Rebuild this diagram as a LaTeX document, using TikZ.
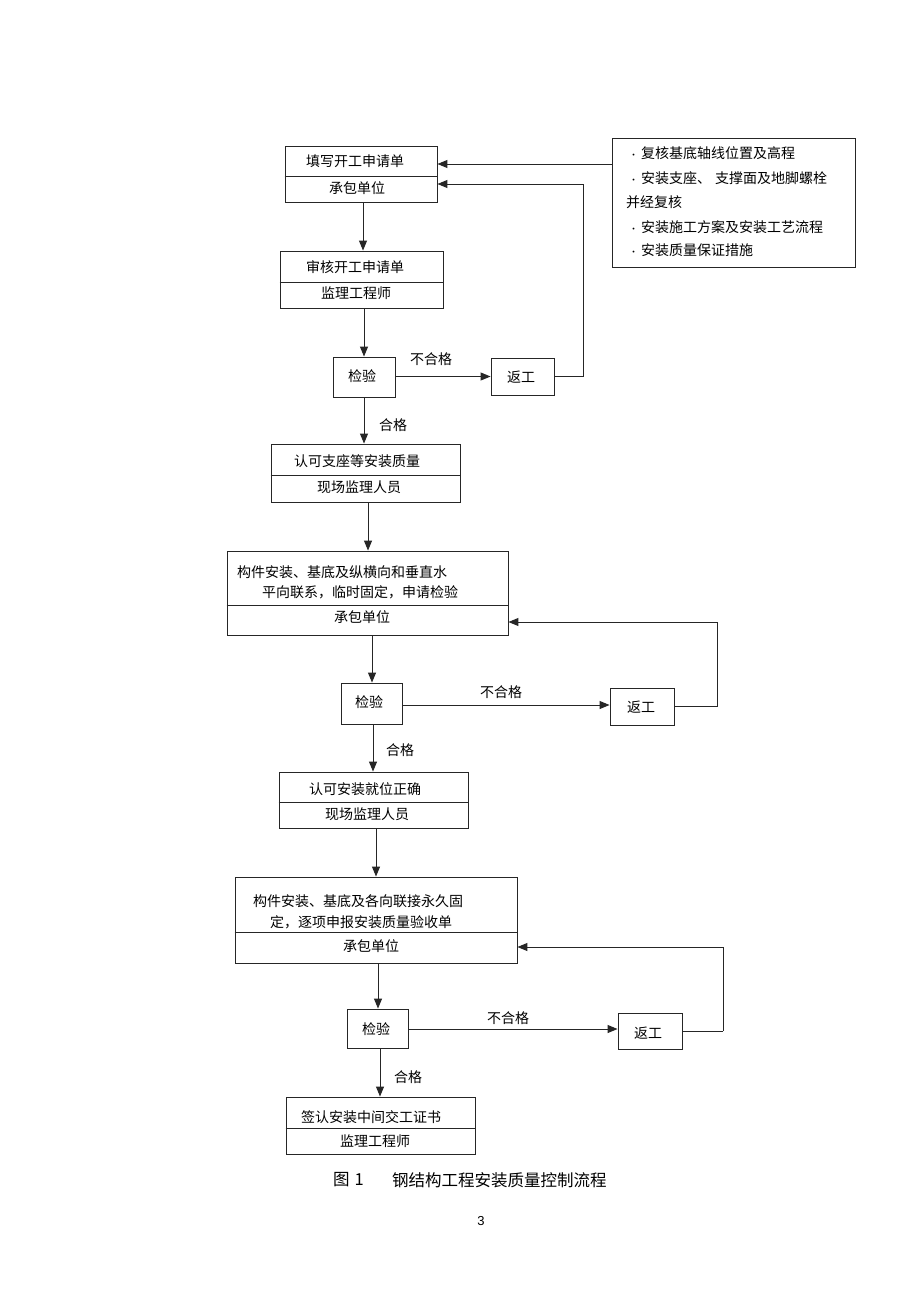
\documentclass[tikz,border=0pt]{standalone}
\usepackage{fontspec}
\setmainfont{Liberation Sans}
\newfontfamily\cjk{Noto Sans CJK SC}
\usetikzlibrary{arrows.meta}
\begin{document}
\begin{tikzpicture}[x=1pt,y=-1pt,
  box/.style={draw=black!85, line width=0.9pt, inner sep=0, fill=none},
  lnk/.style={draw=black!85, line width=1pt},
  arr/.style={lnk, -{Triangle[length=10pt,width=8pt]}},
  txt/.style={inner sep=0, font=\cjk\fontsize{14}{16}\selectfont},
  captxt/.style={inner sep=0, font=\cjk\fontsize{16.5}{18}\selectfont}]
\fill[white] (0,0) rectangle (920,1303);
\useasboundingbox (0,0) rectangle (920,1303);

% ---- boxes ----
\node[box, minimum width=152pt, minimum height=56pt] (b1) at (361,174) {};
\node[box, minimum width=163pt, minimum height=57pt] (b2) at (361.5,279.5) {};
\node[box, minimum width=62pt, minimum height=40pt] (k1) at (364,377) {};
\node[box, minimum width=63pt, minimum height=37pt] (r1) at (522.5,376.5) {};
\node[box, minimum width=243pt, minimum height=129pt] (info) at (733.5,202.5) {};
\node[box, minimum width=189pt, minimum height=58pt] (b3) at (365.5,473) {};
\node[box, minimum width=281pt, minimum height=84pt] (b4) at (367.5,593) {};
\node[box, minimum width=61pt, minimum height=41pt] (k2) at (371.5,703.5) {};
\node[box, minimum width=64pt, minimum height=37pt] (r2) at (642,706.5) {};
\node[box, minimum width=189pt, minimum height=56pt] (b5) at (373.5,800) {};
\node[box, minimum width=282pt, minimum height=86pt] (b6) at (376,920) {};
\node[box, minimum width=61pt, minimum height=39pt] (k3) at (377.5,1028.5) {};
\node[box, minimum width=64pt, minimum height=36pt] (r3) at (650,1031) {};
\node[box, minimum width=189pt, minimum height=57pt] (b7) at (380.5,1125.5) {};

% ---- dividers ----
\draw[lnk] (b1.west |- 0,176) -- (b1.east |- 0,176);
\draw[lnk] (b2.west |- 0,282) -- (b2.east |- 0,282);
\draw[lnk] (b3.west |- 0,475) -- (b3.east |- 0,475);
\draw[lnk] (b4.west |- 0,605) -- (b4.east |- 0,605);
\draw[lnk] (b5.west |- 0,802) -- (b5.east |- 0,802);
\draw[lnk] (b6.west |- 0,932) -- (b6.east |- 0,932);
\draw[lnk] (b7.west |- 0,1128) -- (b7.east |- 0,1128);

% ---- texts ----
\node[txt] (t1a) at (355,161) {填写开工申请单};
\node[txt] (t1b) at (357,188) {承包单位};
\node[txt] (t2a) at (355,267) {审核开工申请单};
\node[txt] (t2b) at (356,293) {监理工程师};
\node[txt] (tk1) at (362,376) {检验};
\node[txt] (tr1) at (521,377) {返工};
\node[txt] (tn1) at (431,359) {不合格};
\node[txt] (tp1) at (393,425) {合格};
\node[txt] (t3a) at (357,461) {认可支座等安装质量};
\node[txt] (t3b) at (359,487) {现场监理人员};
\node[txt, anchor=west] (t4a) at (237,572) {构件安装、基底及纵横向和垂直水};
\node[txt, anchor=west] (t4b) at (262,592) {平向联系，临时固定，申请检验};
\node[txt] (t4c) at (362,617) {承包单位};
\node[txt] (tk2) at (369,702) {检验};
\node[txt] (tr2) at (641,707) {返工};
\node[txt] (tn2) at (501,692) {不合格};
\node[txt] (tp2) at (400,750) {合格};
\node[txt] (t5a) at (365,789) {认可安装就位正确};
\node[txt] (t5b) at (367,814) {现场监理人员};
\node[txt, anchor=west] (t6a) at (253,901) {构件安装、基底及各向联接永久固};
\node[txt, anchor=west] (t6b) at (270,922) {定，逐项申报安装质量验收单};
\node[txt] (t6c) at (371,946) {承包单位};
\node[txt] (tk3) at (376,1029) {检验};
\node[txt] (tr3) at (648,1033) {返工};
\node[txt] (tn3) at (508,1018) {不合格};
\node[txt] (tp3) at (408,1077) {合格};
\node[txt] (t7a) at (371,1117) {签认安装中间交工证书};
\node[txt] (t7b) at (375,1141) {监理工程师};

% info box lines
\node[txt, anchor=west] (i1) at (629,153) {{\fontsize{9}{9}\selectfont •}\hspace{3pt}复核基底轴线位置及高程};
\node[txt, anchor=west] (i2) at (629,178) {{\fontsize{9}{9}\selectfont •}\hspace{3pt}安装支座、\hspace{4pt}支撑面及地脚螺栓};
\node[txt, anchor=west] (i3) at (626,202) {并经复核};
\node[txt, anchor=west] (i4) at (629,227) {{\fontsize{9}{9}\selectfont •}\hspace{3pt}安装施工方案及安装工艺流程};
\node[txt, anchor=west] (i5) at (629,250) {{\fontsize{9}{9}\selectfont •}\hspace{3pt}安装质量保证措施};

% ---- connectors ----
\coordinate (c1) at (583,376.5);
\coordinate (c2) at (717,706.5);
\coordinate (c3) at (723,1031);

\draw[arr] (info.west |- 0,164) -- (b1.east |- 0,164);
\draw[arr] (b1.south -| 363,0) -- (b2.north -| 363,0);
\draw[arr] (b2.south -| 364,0) -- (k1.north -| 364,0);
\draw[arr] (k1.east |- 0,376.5) -- (r1.west);
\draw[arr] (r1.east) -- (c1) |- (b1.east |- 0,184);
\draw[arr] (k1.south -| 364,0) -- (b3.north -| 364,0);
\draw[arr] (b3.south -| 368,0) -- (b4.north -| 368,0);
\draw[arr] (b4.south -| 372,0) -- (k2.north -| 372,0);
\draw[arr] (k2.east |- 0,705) -- (r2.west |- 0,705);
\draw[lnk] (r2.east) -- (c2);
\draw[arr] (c2) |- (b4.east |- 0,622);
\draw[arr] (k2.south -| 373,0) -- (b5.north -| 373,0);
\draw[arr] (b5.south -| 376,0) -- (b6.north -| 376,0);
\draw[arr] (b6.south -| 378,0) -- (k3.north -| 378,0);
\draw[arr] (k3.east |- 0,1029) -- (r3.west |- 0,1029);
\draw[lnk] (r3.east) -- (c3);
\draw[arr] (c3) |- (b6.east |- 0,947);
\draw[arr] (k3.south -| 380,0) -- (b7.north -| 380,0);

% ---- caption ----
\node[captxt, anchor=west] (capA) at (333,1180) {图\hspace{5pt}1};
\node[captxt, anchor=west] (capB) at (392,1180) {钢结构工程安装质量控制流程};
\node[inner sep=0, font=\fontsize{13}{15}\selectfont] (pg) at (481,1221) {3};
\end{tikzpicture}
\end{document}
